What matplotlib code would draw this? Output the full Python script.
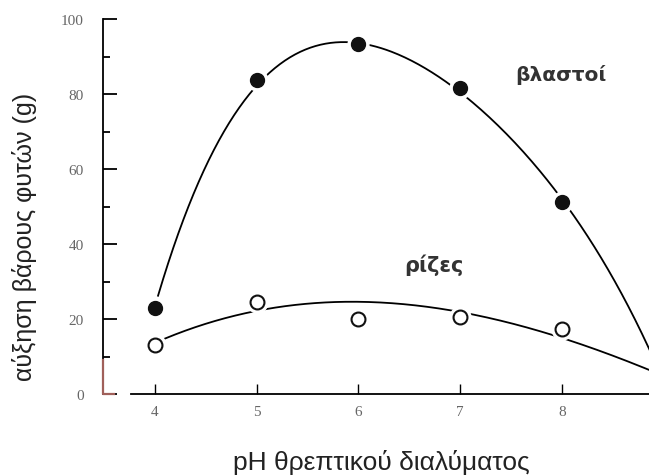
import numpy as np
import matplotlib.pyplot as plt
from matplotlib.ticker import MultipleLocator

# pH values and growth (g)
ph = [4, 5, 6, 7, 8]
shoots = [23, 83.7, 93.3, 81.6, 51.2]   # βλαστοί (filled)
roots = [13, 24.5, 20, 20.5, 17.3]      # ρίζες (open)

# points
shoot_curve_x = [4.03, 5, 5.5, 6, 7, 8, 8.86]
shoot_curve_y = [26, 83.7, 90.5, 93.3, 81.6, 51.2, 12]
root_curve_x = [4.1, 5, 5.8, 7, 8, 8.86]
root_curve_y = [14.5, 23, 24.2, 21, 16, 6]

fit_s = np.polyfit(shoot_curve_x, shoot_curve_y, 4)
fit_r = np.polyfit(root_curve_x, root_curve_y, 3)
xs1 = np.linspace(shoot_curve_x[0], 9.0, 300)
xs2 = np.linspace(root_curve_x[0], 9.0, 300)

fig = plt.figure(figsize=(6.49, 4.77), dpi=100)
ax = fig.add_axes([103 / 649, 82 / 477, 546 / 649, 375 / 477])

ax.plot(xs1, np.polyval(fit_s, xs1), color="black", lw=1.3)
ax.plot(xs2, np.polyval(fit_r, xs2), color="black", lw=1.3)
# white halo so the curves break around the markers
ax.plot(ph, shoots, "o", color="white", ms=15)
ax.plot(ph, roots, "o", color="white", ms=15)
ax.plot(ph, shoots, "o", color="#111111", ms=10)
ax.plot(ph, roots, "o", mfc="white", mec="#111111", mew=1.5, ms=10)

ax.set_xlim(3.489, 8.855)
ax.set_ylim(0, 100)
ax.spines["top"].set_visible(False)
ax.spines["right"].set_visible(False)
ax.spines["bottom"].set_bounds(3.76, 8.855)
ax.spines["left"].set_linewidth(1.3)
ax.spines["bottom"].set_linewidth(1.3)
# reddish tint at the foot of the y axis (scan)
ax.plot([0, 0, 0.02], [9, 0, 0], color="#a0605a", lw=1.6, zorder=5,
        transform=ax.get_yaxis_transform(), clip_on=False)

ax.set_xticks(ph)
ax.set_yticks([0, 20, 40, 60, 80, 100])
ax.yaxis.set_minor_locator(MultipleLocator(10))
ax.tick_params(axis="y", which="major", direction="in", length=10, width=1.3,
               pad=14, labelsize=11, labelcolor="#666666")
ax.tick_params(axis="y", which="minor", direction="in", length=5, width=1.3)
ax.tick_params(axis="x", direction="in", length=7, width=1, pad=8,
               labelsize=11, labelcolor="#666666")
for lab in ax.get_xticklabels() + ax.get_yticklabels():
    lab.set_fontfamily("Liberation Serif")

fig.text(381 / 649, 1 - 463 / 477, "pH θρεπτικού διαλύματος", fontsize=19,
         family="Liberation Sans", color="#222222", ha="center", va="center")
fig.text(25 / 649, 1 - 237 / 477, "αύξηση βάρους φυτών (g)", fontsize=18,
         family="Liberation Sans", color="#222222", ha="center", va="center",
         rotation=90)

ax.text(7.54, 85.3, "βλαστοί", fontsize=14.5, fontweight="bold",
        color="#333333", va="center")
ax.text(6.45, 34.7, "ρίζες", fontsize=15, fontweight="bold",
        color="#333333", va="center")

fig.savefig("out.png", dpi=100)
